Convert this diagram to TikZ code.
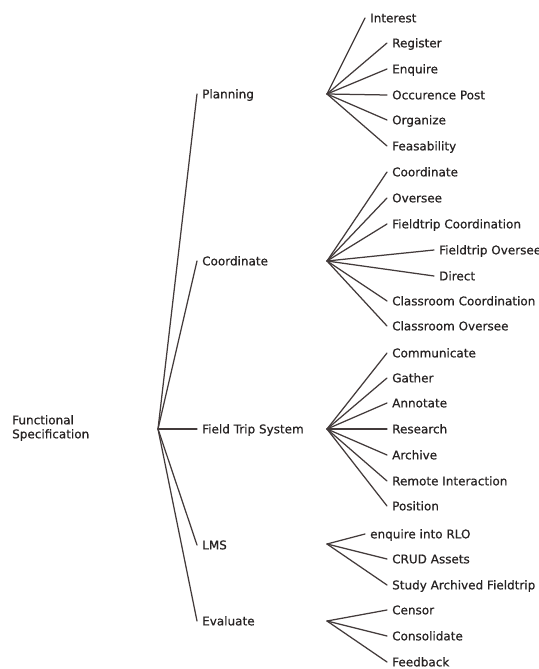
\documentclass[tikz,border=0pt]{standalone}
\usepackage{fontspec}
\setmainfont[FakeBold=0.6]{DejaVu Sans}
\definecolor{inkgray}{HTML}{262222}
\definecolor{wiregray}{HTML}{433B3B}
\begin{document}
\begin{tikzpicture}[x=1bp,y=-1bp,
  lbl/.style={anchor=west, inner xsep=5bp, inner ysep=0pt,
    text height=8.7bp, text depth=0pt,
    font=\fontsize{12bp}{14bp}\selectfont, text=inkgray},
  link/.style={draw=wiregray, line width=1.25bp, line cap=round}]
\useasboundingbox (0,0) rectangle (539,669);
\clip (0,0) rectangle (539,669);

% root
\node[anchor=west, align=left, inner sep=0pt, text=inkgray,
  font=\fontsize{12bp}{14bp}\selectfont] (root) at (12,428)
  {Functional\\Specification};
\coordinate (hub) at (158,429);

% second level
\node[lbl] (planning) at (197,94) {Planning};
\node[lbl] (coord) at (197,261) {Coordinate};
\node[lbl] (fts) at (197,429) {Field Trip System};
\node[lbl] (lms) at (197,545) {LMS};
\node[lbl] (eval) at (197,621) {Evaluate};
\foreach \n in {planning,coord,fts,lms,eval}
  \draw[link] (hub) -- (\n.west);

% fan points of each branch
\coordinate (planhub) at (327,94);
\coordinate (coordhub) at (327,261);
\coordinate (ftshub) at (327,429);
\coordinate (lmshub) at (327,544);
\coordinate (evalhub) at (327,621);

% Planning
\foreach \n/\x/\y/\t in {interest/365/18/Interest, register/387/43/Register,
    enquire/387/69/Enquire, occpost/387/95/Occurence Post,
    organize/387/120/Organize, feas/387/146/Feasability} {
  \node[lbl] (\n) at (\x,\y) {\t};
  \draw[link] (planhub) -- (\n.west);
}

% Coordinate
\foreach \n/\x/\y/\t in {coordinate/387/172/Coordinate, oversee/387/198/Oversee,
    ftcoord/387/224/Fieldtrip Coordination, ftover/434/250/Fieldtrip Oversee,
    direct/434/276/Direct, clcoord/387/301/Classroom Coordination,
    clover/387/326/Classroom Oversee} {
  \node[lbl] (\n) at (\x,\y) {\t};
  \draw[link] (coordhub) -- (\n.west);
}

% Field Trip System
\foreach \n/\x/\y/\t in {communicate/387/353/Communicate, gather/387/378/Gather,
    annotate/387/403/Annotate, research/387/429/Research,
    archive/387/455/Archive, remote/387/481/Remote Interaction,
    position/387/506/Position} {
  \node[lbl] (\n) at (\x,\y) {\t};
  \draw[link] (ftshub) -- (\n.west);
}

% LMS
\foreach \n/\x/\y/\t in {rlo/365/534/enquire into RLO, crud/387/559/CRUD Assets,
    study/387/585/Study Archived Fieldtrip} {
  \node[lbl] (\n) at (\x,\y) {\t};
  \draw[link] (lmshub) -- (\n.west);
}

% Evaluate
\foreach \n/\x/\y/\t in {censor/387/610/Censor, consolidate/387/636/Consolidate,
    feedback/387/662/Feedback} {
  \node[lbl] (\n) at (\x,\y) {\t};
  \draw[link] (evalhub) -- (\n.west);
}
\end{tikzpicture}
\end{document}
